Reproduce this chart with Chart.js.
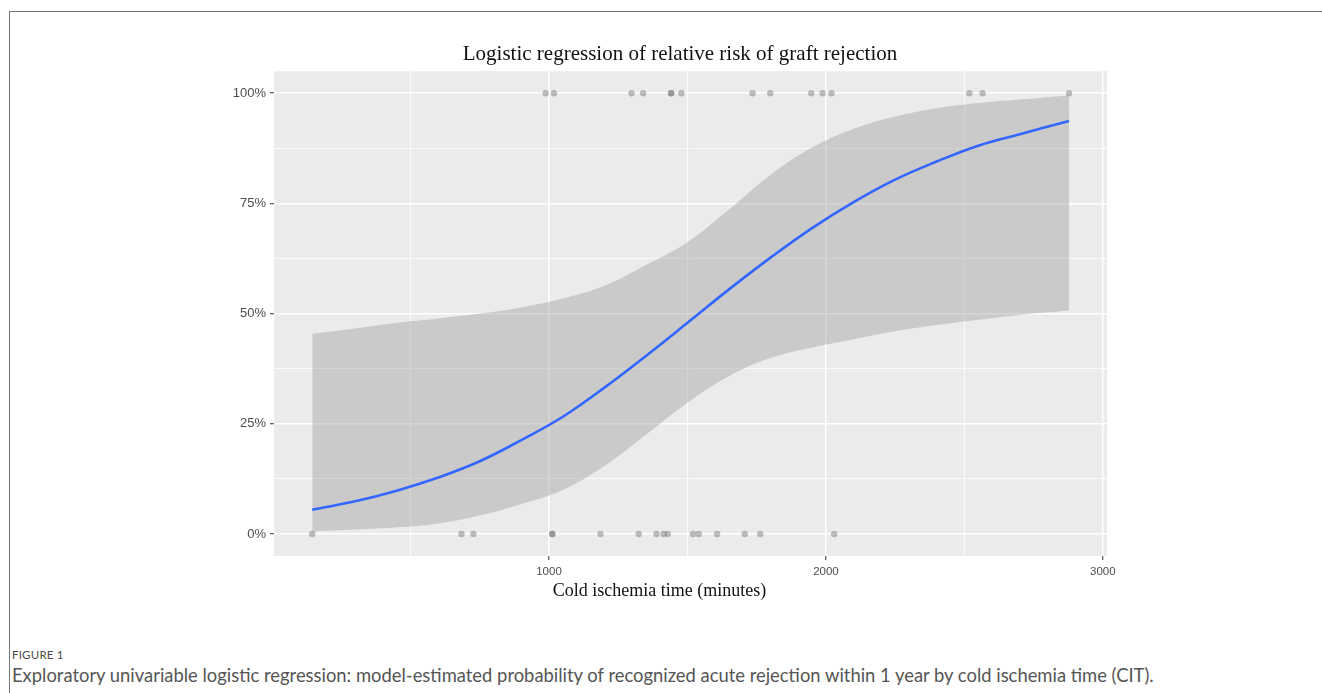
<!DOCTYPE html>
<html>
<head>
<meta charset="utf-8">
<title>Logistic regression of relative risk of graft rejection</title>
<script src="https://cdn.jsdelivr.net/npm/chart.js@4.4.1/dist/chart.umd.min.js"></script>
<style>
    html, body { margin: 0; padding: 0; background: #fff; }
    body { width: 1322px; height: 693px; position: relative; overflow: hidden; font-family: Lato, 'Open Sans', sans-serif; }
    .frame { position: absolute; left: 9px; top: 11px; right: -5px; bottom: -5px; border-left: 1px solid #76767e; border-top: 1px solid #76767e; }
    .chart-box { position: absolute; left: 180px; top: 20px; width: 1000px; height: 600px; }
    .fig-label { position: absolute; left: 12px; top: 647px; font-size: 11.5px; line-height: 16px; color: #4a4a4a; letter-spacing: 0.2px; }
    .fig-caption { position: absolute; left: 12px; top: 665px; font-size: 18.4px; line-height: 20px; color: #555; white-space: nowrap; }
</style>
</head>
<body>
<div class="frame"></div>
<div class="chart-box"><canvas id="cit-chart"></canvas></div>
<div class="fig-label">FIGURE 1</div>
<div class="fig-caption">Exploratory univariable logistic regression: model-estimated probability of recognized acute rejection within 1 year by cold ischemia time (CIT).</div>

<script>
(function() {
    'use strict';

    // Observed patients (cold ischemia time, minutes)
    var rejectedX = [988, 1018, 1298, 1340, 1441, 1441, 1478, 1735, 1799, 1947, 1988, 2020, 2518, 2566, 2878];
    var notRejectedX = [145, 684, 727, 1012, 1012, 1186, 1324, 1388, 1414, 1429, 1520, 1541, 1607, 1707, 1763, 2030];

    // Fitted curve and 95% band (percent)
    var fitX = [145, 300, 450, 600, 750, 900, 1050, 1200, 1350, 1500, 1650, 1800, 1950, 2100, 2250, 2400, 2550, 2700, 2878];
    var fitProb = [5.5, 7.4, 9.8, 12.8, 16.5, 21.3, 26.6, 33.2, 40.4, 47.9, 55.5, 62.7, 69.4, 75.3, 80.4, 84.5, 88.1, 90.7, 93.7];
    var bandUpper = [45.4, 46.6, 47.9, 48.9, 50.0, 51.4, 53.4, 56.3, 61.0, 66.2, 73.6, 81.5, 87.7, 91.9, 94.7, 96.6, 97.8, 98.6, 99.5];
    var bandLower = [0.6, 1.0, 1.5, 2.4, 4.2, 6.8, 10.0, 15.4, 22.5, 29.8, 35.8, 39.9, 42.3, 44.2, 46.0, 47.4, 48.6, 49.7, 50.7];

    // Axis ticks (majors labelled, minors only draw a thin grid line)
    var xTicks = [500, 1000, 1500, 2000, 2500, 3000];
    var xMajor = [1000, 2000, 3000];
    var yTicks = [0, 12.5, 25, 37.5, 50, 62.5, 75, 87.5, 100];
    var yMajor = [0, 25, 50, 75, 100];

    function pairs(xs, ys) {
        return xs.map(function(x, i) { return { x: x, y: ys[i] }; });
    }
    function atY(xs, y) {
        return xs.map(function(x) { return { x: x, y: y }; });
    }
    function isMajor(list, v) {
        return list.indexOf(v) !== -1;
    }

    var panelBg = {
        id: 'panelBg',
        beforeDraw: function(chart) {
            var a = chart.chartArea, ctx = chart.ctx;
            ctx.save();
            ctx.fillStyle = '#ebebeb';
            ctx.fillRect(a.left, a.top, a.right - a.left, a.bottom - a.top);
            ctx.restore();
        }
    };

    // x axis title sits centred under the whole plot, not the panel
    var xCaption = {
        id: 'xCaption',
        afterDraw: function(chart) {
            var a = chart.chartArea, ctx = chart.ctx;
            ctx.save();
            ctx.fillStyle = '#111';
            ctx.font = '18px "Liberation Serif", "Times New Roman", serif';
            ctx.textAlign = 'center';
            ctx.textBaseline = 'middle';
            ctx.fillText('Cold ischemia time (minutes)', (a.left + a.right) / 2 - 31, a.bottom + 35);
            ctx.restore();
        }
    };

    var pointStyle = {
        showLine: false,
        pointRadius: 3.2,
        pointHoverRadius: 3.2,
        pointBorderWidth: 0,
        pointBackgroundColor: 'rgba(105, 105, 105, 0.42)',
        pointBorderColor: 'rgba(0, 0, 0, 0)'
    };

    var bandLine = {
        showLine: true,
        borderWidth: 0,
        borderColor: 'rgba(0,0,0,0)',
        pointRadius: 0,
        tension: 0.4,
        order: 3
    };

    new Chart(document.getElementById('cit-chart'), {
        type: 'scatter',
        data: {
            datasets: [
                Object.assign({ label: 'lower', data: pairs(fitX, bandLower), fill: false }, bandLine),
                Object.assign({ label: 'upper', data: pairs(fitX, bandUpper), fill: '-1', backgroundColor: 'rgba(153, 153, 153, 0.4)' }, bandLine),
                {
                    label: 'fit',
                    data: pairs(fitX, fitProb),
                    showLine: true,
                    borderWidth: 2.6,
                    borderColor: '#3366ff',
                    pointRadius: 0,
                    tension: 0.4,
                    fill: false,
                    order: 2
                },
                Object.assign({ label: 'rejected', data: atY(rejectedX, 100), order: 1 }, pointStyle),
                Object.assign({ label: 'no rejection', data: atY(notRejectedX, 0), order: 1 }, pointStyle)
            ]
        },
        options: {
            responsive: true,
            maintainAspectRatio: false,
            animation: false,
            layout: { padding: 0 },
            plugins: {
                legend: { display: false },
                tooltip: { enabled: false },
                title: {
                    display: true,
                    text: 'Logistic regression of relative risk of graft rejection',
                    color: '#111',
                    font: { family: '"Liberation Serif", "Times New Roman", serif', size: 21, weight: 'normal' },
                    padding: { top: 22, bottom: 4 }
                }
            },
            scales: {
                x: {
                    type: 'linear',
                    min: 7,
                    max: 3015,
                    border: { display: false },
                    afterBuildTicks: function(scale) {
                        scale.ticks = xTicks.map(function(v) { return { value: v }; });
                    },
                    afterFit: function(scale) { scale.height = 64; },
                    grid: {
                        color: '#ffffff',
                        lineWidth: function(c) { return isMajor(xMajor, c.tick && c.tick.value) ? 1.5 : 0.8; },
                        tickColor: function(c) { return isMajor(xMajor, c.tick && c.tick.value) ? '#333333' : 'rgba(0,0,0,0)'; },
                        tickLength: 4,
                        tickWidth: 1
                    },
                    ticks: {
                        autoSkip: false,
                        maxRotation: 0,
                        padding: 5,
                        color: '#4d4d4d',
                        font: { family: '"Liberation Sans", Arial, sans-serif', size: 11.5 },
                        callback: function(v) { return isMajor(xMajor, v) ? String(v) : ''; }
                    }
                },
                y: {
                    type: 'linear',
                    min: -5,
                    max: 105,
                    border: { display: false },
                    afterBuildTicks: function(scale) {
                        scale.ticks = yTicks.map(function(v) { return { value: v }; });
                    },
                    afterFit: function(scale) { scale.width = 94; },
                    grid: {
                        color: '#ffffff',
                        lineWidth: function(c) { return isMajor(yMajor, c.tick && c.tick.value) ? 1.5 : 0.8; },
                        tickColor: function(c) { return isMajor(yMajor, c.tick && c.tick.value) ? '#333333' : 'rgba(0,0,0,0)'; },
                        tickLength: 4,
                        tickWidth: 1
                    },
                    ticks: {
                        autoSkip: false,
                        padding: 4,
                        color: '#4d4d4d',
                        font: { family: '"Liberation Sans", Arial, sans-serif', size: 13 },
                        callback: function(v) { return isMajor(yMajor, v) ? v + '%' : ''; }
                    }
                },
                // empty right-hand spacer so the title centres where the original does
                ySpacer: {
                    type: 'linear',
                    position: 'right',
                    display: true,
                    grid: { display: false, drawTicks: false },
                    border: { display: false },
                    ticks: { display: false },
                    afterFit: function(scale) { scale.width = 73; }
                }
            }
        },
        plugins: [panelBg, xCaption]
    });
})();
</script>
</body>
</html>
